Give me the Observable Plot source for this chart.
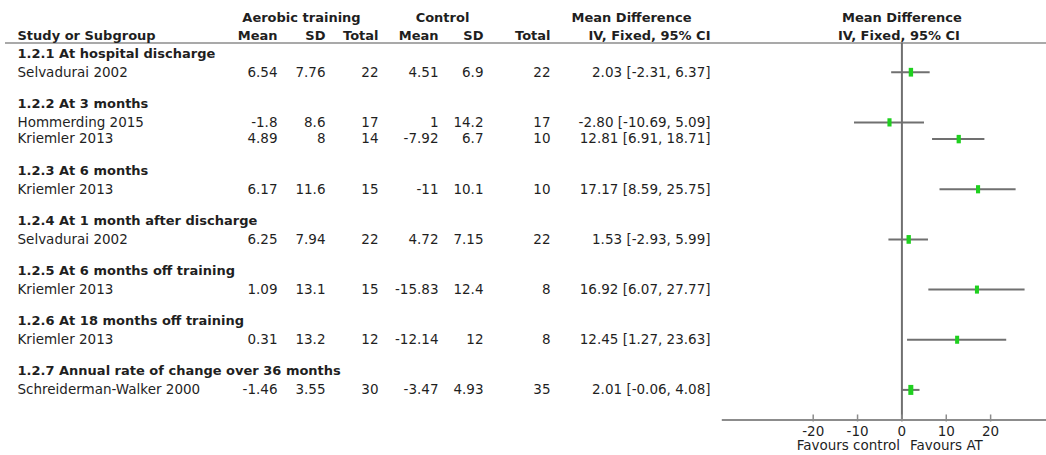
<!DOCTYPE html>
<html>
<head>
<meta charset="utf-8">
<script src="https://cdn.jsdelivr.net/npm/d3@7"></script>
<script src="https://cdn.jsdelivr.net/npm/@observablehq/plot@0.6"></script>
<style>
  html, body { margin: 0; padding: 0; background: #fff; overflow: hidden; }
</style>
</head>
<body>
<div id="chart"></div>
<script>
// Forest plot: aerobic training vs control, mean difference (IV, fixed, 95% CI)
const subgroups = [
  "1.2.1 At hospital discharge",
  "1.2.2 At 3 months",
  "1.2.3 At 6 months",
  "1.2.4 At 1 month after discharge",
  "1.2.5 At 6 months off training",
  "1.2.6 At 18 months off training",
  "1.2.7 Annual rate of change over 36 months"
];
const studies = [
  "Selvadurai 2002", "Hommerding 2015", "Kriemler 2013", "Kriemler 2013",
  "Selvadurai 2002", "Kriemler 2013", "Kriemler 2013", "Schreiderman-Walker 2000"
];
const studyGroup = [0, 1, 1, 2, 3, 4, 5, 6];
const atMean  = [6.54, -1.8, 4.89, 6.17, 6.25, 1.09, 0.31, -1.46];
const atSD    = [7.76, 8.6, 8, 11.6, 7.94, 13.1, 13.2, 3.55];
const atTotal = [22, 17, 14, 15, 22, 15, 12, 30];
const ctMean  = [4.51, 1, -7.92, -11, 4.72, -15.83, -12.14, -3.47];
const ctSD    = [6.9, 14.2, 6.7, 10.1, 7.15, 12.4, 12, 4.93];
const ctTotal = [22, 17, 10, 10, 22, 8, 8, 35];
const md      = [2.03, -2.80, 12.81, 17.17, 1.53, 16.92, 12.45, 2.01];
const ciLow   = [-2.31, -10.69, 6.91, 8.59, -2.93, 6.07, 1.27, -0.06];
const ciHigh  = [6.37, 5.09, 18.71, 25.75, 5.99, 27.77, 23.63, 4.08];
const xTicks  = [-20, -10, 0, 10, 20];
const groupHeads = ["Aerobic training", "Control"];
const colHeads = ["Study or Subgroup", "Mean", "SD", "Total", "Mean", "SD", "Total"];
const effectHead = ["Mean Difference", "IV, Fixed, 95% CI"];
const favoursLeft = "Favours control";
const favoursRight = "Favours AT";

// Lay out rows: subgroup heading, its studies, then a blank spacer row
const groupRows = [];
const studyRows = [];
let r = 0;
subgroups.forEach((label, g) => {
  groupRows.push({label, row: r++});
  studyGroup.forEach((sg, i) => {
    if (sg === g) {
      // inverse-variance weight sets the box size
      const se = (ciHigh[i] - ciLow[i]) / 3.92;
      studyRows.push({
        i, row: r++,
        name: studies[i],
        atMean: String(atMean[i]), atSD: String(atSD[i]), atTotal: String(atTotal[i]),
        ctMean: String(ctMean[i]), ctSD: String(ctSD[i]), ctTotal: String(ctTotal[i]),
        ci: `${md[i].toFixed(2)} [${ciLow[i].toFixed(2)}, ${ciHigh[i].toFixed(2)}]`,
        md: md[i], lo: ciLow[i], hi: ciHigh[i],
        w: 1 / (se * se)
      });
    }
  });
  r++;
});
const wMax = d3.max(studyRows, d => d.w);
studyRows.forEach(d => { d.size = 3.8 + 1.2 * Math.sqrt(d.w / wMax); });

// vertical positions (in row units) of header lines and the axis
const yHead1 = -2.25, yHead2 = -1.2, yRule = -0.75;
const yAxis = 21.8, yTickLab = 22.5, yFav = 23.35;

const FONT = "DejaVu Sans, Verdana, sans-serif";
const TXT = "#1f1f1f";
const LINE = "#707070";
const BODY_SIZE = 13.5;

// narrow upright box marker
const boxSymbol = {
  draw(ctx, size) {
    const h = Math.sqrt(size / Math.PI);
    const w = h * 0.5;
    ctx.moveTo(-w, -h); ctx.lineTo(w, -h); ctx.lineTo(w, h); ctx.lineTo(-w, h); ctx.closePath();
  }
};

// a right-aligned numeric column of the study table
const col = (field, dx) =>
  Plot.text(studyRows, {y: "row", text: field, frameAnchor: "left", dx, textAnchor: "end", fill: TXT, fontSize: BODY_SIZE});

// a single bold header label at a fixed left offset
const head = (label, y, dx, anchor) =>
  Plot.text([label], {y: () => y, text: d => d, frameAnchor: "left", dx, textAnchor: anchor, fill: TXT, fontWeight: "bold"});

const colHeadPos = [17, 277, 325, 378, 438, 483, 550];

const chart = Plot.plot({
  width: 1046,
  height: 455,
  margin: 0,
  style: {fontFamily: FONT, fontSize: "13px", background: "#fff", overflow: "hidden"},
  x: {type: "linear", domain: [-40, 32.6], range: [724, 1046], axis: null},
  y: {type: "linear", domain: [0, 20], range: [55, 55 + 20 * 16.72], axis: null},
  r: {type: "identity"},
  marks: [
    // header rule and zero line
    Plot.ruleY([yRule], {y: d => d, stroke: "#8c8c8c", strokeWidth: 1.6, insetLeft: 5}),
    Plot.ruleX([0], {x: d => d, y1: yRule, y2: yAxis, stroke: LINE, strokeWidth: 2}),

    // column headers
    head(groupHeads[0], yHead1, 301, "middle"),
    head(groupHeads[1], yHead1, 442, "middle"),
    head(effectHead[0], yHead1, 631, "middle"),
    head(effectHead[1], yHead2, 710, "end"),
    ...colHeads.map((t, k) => head(t, yHead2, colHeadPos[k], k === 0 ? "start" : "end")),
    Plot.text([effectHead[0]], {x: () => 0, y: () => yHead1, text: d => d, textAnchor: "middle", fill: TXT, fontWeight: "bold"}),
    Plot.text([effectHead[1]], {x: () => 0, y: () => yHead2, text: d => d, textAnchor: "middle", dx: -3, fill: TXT, fontWeight: "bold"}),

    // subgroup headings
    Plot.text(groupRows, {y: "row", text: "label", frameAnchor: "left", dx: 17, dy: -2, textAnchor: "start", fill: TXT, fontWeight: "bold"}),

    // study rows
    Plot.text(studyRows, {y: "row", text: "name", frameAnchor: "left", dx: 17, textAnchor: "start", fill: TXT, fontSize: BODY_SIZE}),
    col("atMean", 277), col("atSD", 325), col("atTotal", 378),
    col("ctMean", 438), col("ctSD", 483), col("ctTotal", 550),
    col("ci", 710),

    // confidence intervals and point estimates
    Plot.ruleY(studyRows, {y: "row", x1: "lo", x2: "hi", stroke: LINE, strokeWidth: 2}),
    Plot.dot(studyRows, {x: "md", y: "row", r: "size", symbol: boxSymbol, fill: "#1fd01f", stroke: "none"}),

    // x axis
    Plot.ruleY([yAxis], {y: d => d, x1: -40.5, x2: 32.6, stroke: "#8c8c8c", strokeWidth: 2}),
    Plot.ruleX(xTicks, {x: d => d, y1: yAxis - 0.3, y2: yAxis + 0.12, stroke: "#8c8c8c", strokeWidth: 1.5}),
    Plot.text(xTicks, {x: d => d, y: () => yTickLab, text: d => String(d), fill: TXT, fontSize: BODY_SIZE}),
    Plot.text([favoursLeft], {x: () => 0, y: () => yFav, text: d => d, textAnchor: "end", dx: -2, fill: TXT, fontSize: BODY_SIZE}),
    Plot.text([favoursRight], {x: () => 0, y: () => yFav, text: d => d, textAnchor: "start", dx: 8, fill: TXT, fontSize: BODY_SIZE})
  ]
});

document.getElementById("chart").appendChild(chart);
</script>
</body>
</html>
